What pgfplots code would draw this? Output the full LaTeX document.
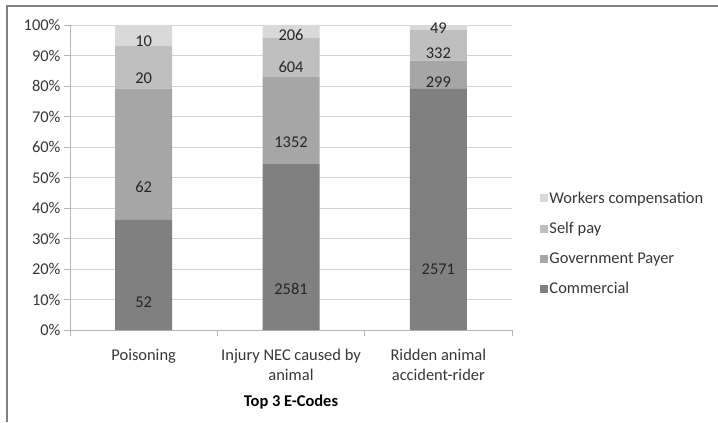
\documentclass[border=0pt]{standalone}
\usepackage{fontspec}
\setmainfont{Carlito}
\usepackage{pgfplots}
\pgfplotsset{compat=1.18}
\definecolor{cCom}{RGB}{128,128,128}
\definecolor{cGov}{RGB}{166,166,166}
\definecolor{cSelf}{RGB}{191,191,191}
\definecolor{cWork}{RGB}{217,217,217}
\definecolor{txt}{RGB}{55,55,55}
\definecolor{gridc}{RGB}{210,210,210}
\definecolor{axc}{RGB}{180,180,180}
\begin{document}
\begin{tikzpicture}[x=1bp,y=1bp,font=\fontsize{16.5}{20}\selectfont]
\path[use as bounding box] (0,0) rectangle (718,422);
\draw[line width=2bp, color=gray] (7,0) -- (7,416) -- (718,416);
\begin{axis}[
  at={(70bp,92bp)}, anchor=south west,
  width=442bp, height=305bp, scale only axis,
  ybar stacked, bar width=57bp,
  xmin=-0.5, xmax=2.5, ymin=0, ymax=100,
  axis x line*=bottom, axis y line*=left,
  axis line style={color=axc, line width=0.8bp},
  every tick/.style={color=axc, line width=0.8bp},
  tick align=outside, major tick length=6bp,
  xtick={-0.5,0.5,1.5,2.5}, x tick label as interval,
  xticklabels={Poisoning,{Injury NEC caused by\\animal},{Ridden animal\\accident-rider}},
  xticklabel style={align=center, text=txt, yshift=-10bp, font=\fontsize{16.5}{20}\selectfont},
  ytick={0,10,...,100},
  yticklabel={\pgfmathprintnumber{\tick}\%},
  yticklabel style={text=txt, font=\fontsize{16.5}{20}\selectfont},
  /pgf/number format/assume math mode=true,
  ymajorgrids, major grid style={color=gridc, line width=0.9bp},
  xlabel={\textbf{Top 3 E-Codes}},
  xlabel style={text=black, yshift=-7bp, font=\fontsize{16.5}{20}\selectfont},
  point meta=explicit symbolic,
  nodes near coords,
  visualization depends on={rawy \as \segh},
  every node near coord/.append style={anchor=center, yshift={-\segh*0.7625bp}, text=black!85, font=\fontsize{16.5}{20}\selectfont},
  legend style={at={(1.055,0.284)}, anchor=west, draw=none, fill=none, row sep=13.5bp, text=txt, font=\fontsize{16.5}{20}\selectfont},
  legend cell align=left, reverse legend,
  legend image code/.code={\fill[#1] (0bp,-4bp) rectangle (8bp,4bp);},
]
\addplot[fill=cCom, draw=none] coordinates {(0,36.111) [52] (1,54.417) [2581] (2,79.083) [2571]};
\addlegendentry{Commercial}
\addplot[fill=cGov, draw=none] coordinates {(0,43.056) [62] (1,28.505) [1352] (2,9.197) [299]};
\addlegendentry{Government Payer}
\addplot[fill=cSelf, draw=none] coordinates {(0,13.889) [20] (1,12.735) [604] (2,10.212) [332]};
\addlegendentry{Self pay}
\addplot[fill=cWork, draw=none] coordinates {(0,6.944) [10] (1,4.343) [206] (2,1.507) [49]};
\addlegendentry{Workers compensation}
\end{axis}
\end{tikzpicture}
\end{document}
